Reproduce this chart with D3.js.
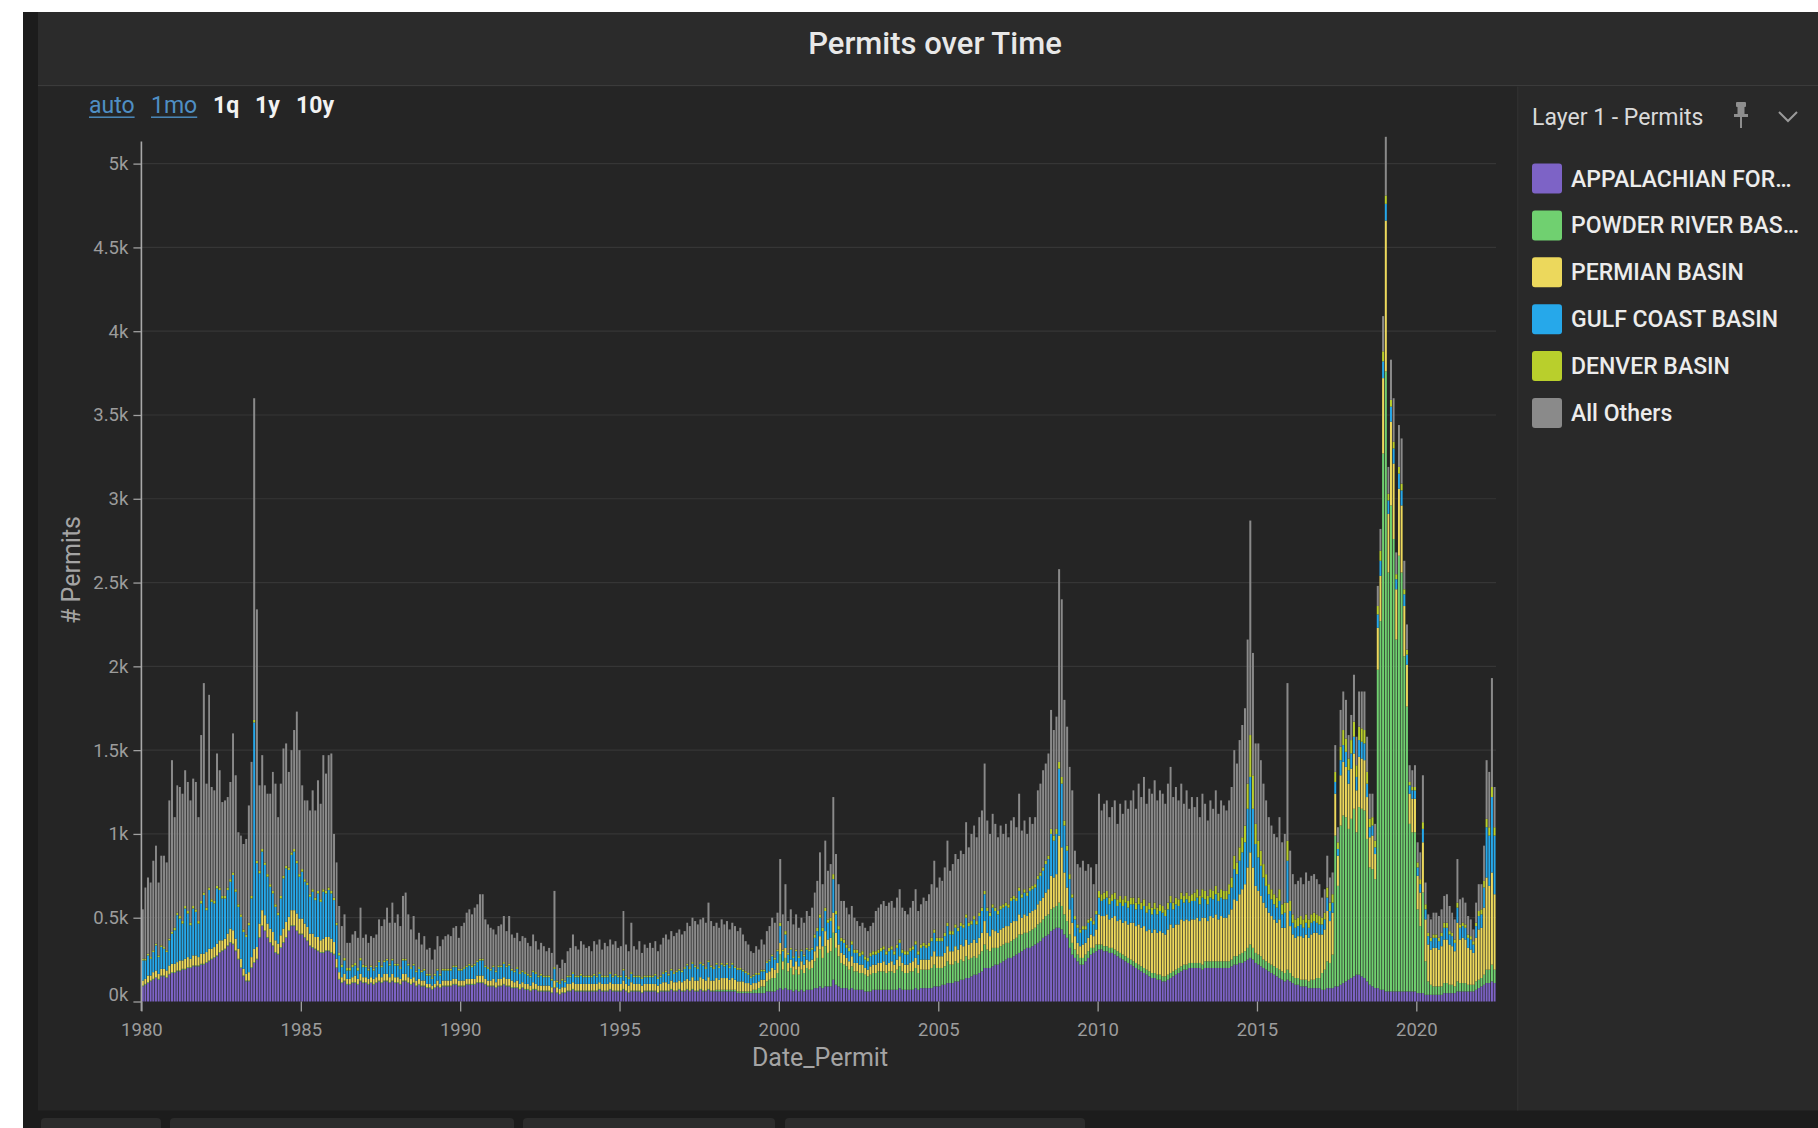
<!DOCTYPE html>
<html><head><meta charset="utf-8">
<script src="https://cdn.jsdelivr.net/npm/d3@7"></script>
<style>
html,body{margin:0;padding:0;background:#ffffff;}
svg{display:block;font-family:Roboto,"Noto Sans",sans-serif;}
</style></head><body>
<svg id="c" width="1818" height="1128"></svg>
<script>
// ---------- DATA (monthly permits, Jan 1980 .. Jun 2022) ----------
const startYear = 1980;
const seriesKeys = ["appalachian","powder","permian","gulf","denver","others"];
const legendLabels = ["APPALACHIAN FOR\u2026","POWDER RIVER BAS\u2026","PERMIAN BASIN","GULF COAST BASIN","DENVER BASIN","All Others"];
const seriesColors = ["#7d63c6","#70d070","#ecd85c","#26a8ea","#b9cf2c","#8a8a8a"];
const yTicks = [0,500,1000,1500,2000,2500,3000,3500,4000,4500,5000];
const xTickYears = [1980,1985,1990,1995,2000,2005,2010,2015,2020];
const rangeButtons = ["auto","1mo","1q","1y","10y"];

const appalachian = [
 90,100,110,120,130,140,130,150,150,140,160,170,
 170,180,180,190,190,200,200,210,210,210,220,220,
 230,240,250,260,270,290,300,310,330,350,340,300,
 250,200,150,120,120,200,230,250,380,450,420,380,
 350,330,290,280,320,350,380,420,450,450,420,400,
 400,380,360,330,320,310,300,290,290,300,300,290,
 280,200,130,110,120,100,100,110,110,100,120,110,
 110,100,110,100,110,120,110,120,120,110,120,110,
 110,100,120,120,110,100,110,90,100,90,90,80,
 80,70,80,90,80,90,90,90,90,100,100,90,
 90,90,100,100,100,100,110,110,110,100,90,90,
 90,80,90,90,100,90,90,80,80,80,70,80,
 70,70,60,70,70,60,60,60,60,60,50,80,
 50,40,50,50,60,60,70,60,60,60,60,60,
 60,60,60,60,70,60,60,60,70,60,60,60,
 60,70,60,50,60,60,60,60,50,60,60,60,
 60,60,50,60,60,60,60,70,60,60,70,60,
 60,70,60,70,60,60,70,60,60,70,60,60,
 60,60,60,60,60,60,60,60,50,50,50,50,
 50,50,50,50,50,50,50,60,60,60,60,70,
 80,70,80,70,70,60,70,60,70,60,70,70,
 70,80,80,90,80,90,90,90,130,100,90,80,
 80,80,70,80,70,70,70,70,60,60,60,70,
 70,70,70,70,70,70,70,70,70,80,70,70,
 70,70,70,80,70,80,80,80,80,80,90,90,
 90,100,100,110,110,110,120,120,130,130,140,140,
 150,160,160,170,180,200,200,200,210,220,220,230,
 240,250,260,260,270,280,290,300,310,320,320,330,
 340,350,360,380,390,400,420,430,440,440,430,400,
 380,320,280,260,240,220,220,240,260,280,290,300,
 310,310,300,300,290,290,280,270,260,250,240,230,
 220,210,200,190,180,170,160,150,140,140,130,130,
 120,120,130,140,150,160,170,180,190,190,200,200,
 200,200,200,190,200,200,200,200,200,200,200,200,
 200,200,210,220,220,230,230,240,250,260,250,230,
 220,210,200,190,180,170,160,150,140,130,120,130,
 120,110,100,100,90,90,90,80,80,80,80,80,
 70,70,80,80,80,90,90,100,110,120,130,140,
 150,160,160,150,140,120,100,90,80,80,70,70,
 60,60,60,60,60,60,60,60,60,60,60,60,
 50,50,50,40,40,40,40,40,40,40,50,50,
 50,50,50,60,60,60,60,60,60,60,70,80,
 90,100,110,110,120,110
];
const powder = [
 5,5,5,5,5,5,5,5,5,5,5,5,
 5,5,5,5,5,5,5,5,5,5,5,5,
 5,5,5,5,5,5,5,5,5,5,5,5,
 5,5,5,5,5,5,5,5,5,5,5,5,
 5,5,5,5,5,5,5,5,5,5,5,5,
 5,5,5,5,5,5,5,5,5,5,5,5,
 5,5,5,5,5,5,5,5,5,5,5,5,
 5,5,5,5,5,5,5,5,5,5,5,5,
 5,5,5,5,5,5,5,5,5,5,5,5,
 5,5,5,5,5,5,5,5,5,5,5,5,
 5,5,5,5,5,5,5,5,5,5,5,5,
 5,5,5,5,5,5,5,5,5,5,5,5,
 5,5,5,5,5,5,5,5,5,5,5,5,
 5,5,5,5,5,5,5,5,5,5,5,5,
 5,5,5,5,5,5,5,5,5,5,5,5,
 5,5,5,5,5,5,5,5,5,5,5,5,
 5,5,5,5,5,5,5,5,5,5,5,5,
 5,5,5,5,5,5,5,5,5,5,5,5,
 10,10,10,10,10,10,10,10,10,10,10,10,
 10,10,20,20,30,40,40,60,70,80,80,100,
 200,120,180,110,130,100,120,100,120,110,130,120,
 130,160,180,220,180,240,200,210,280,220,180,150,
 140,130,120,130,110,110,100,100,100,90,100,100,
 100,110,110,110,100,110,110,100,120,130,110,100,
 100,110,110,120,100,110,110,110,110,120,130,110,
 110,100,110,130,110,110,120,110,120,110,130,110,
 110,110,100,110,120,140,110,100,110,100,100,100,
 100,100,90,100,100,100,110,100,100,90,100,100,
 100,110,110,110,120,120,130,130,130,150,140,120,
 100,80,70,50,40,40,40,40,40,40,30,40,
 30,30,30,30,30,30,30,30,30,30,30,30,
 30,30,30,30,30,30,30,30,30,30,30,30,
 30,30,30,30,30,30,30,30,30,30,30,30,
 30,30,30,30,40,40,40,40,40,40,40,40,
 40,40,40,50,50,50,60,60,70,80,70,60,
 60,60,50,50,50,50,50,50,50,50,50,60,
 50,40,40,40,40,40,40,40,50,50,60,60,
 100,120,160,150,200,900,600,950,1000,980,900,950,
 1000,850,1000,1000,1000,850,700,700,650,1900,2200,3200,
 3700,2500,2900,2700,2100,2600,2500,2000,1700,1000,950,950,
 500,400,600,200,80,60,50,50,50,50,60,60,
 50,50,40,60,50,50,50,40,40,40,50,50,
 50,60,80,80,100,80
];
const permian = [
 30,30,40,30,40,40,30,40,40,40,50,50,
 50,50,60,50,60,60,50,60,60,50,60,60,
 60,70,60,60,70,70,60,60,70,80,80,70,
 60,50,40,40,50,60,80,70,80,90,90,80,
 80,80,70,60,70,80,90,80,90,90,100,90,
 90,80,80,70,80,70,80,70,80,80,80,80,
 70,50,40,30,40,30,30,30,40,30,40,30,
 30,30,30,30,30,40,30,40,40,30,40,30,
 30,30,40,40,30,30,30,30,30,30,30,20,
 20,20,20,30,20,30,30,30,30,30,30,30,
 30,30,30,30,30,30,40,40,40,30,30,30,
 40,30,40,40,40,40,40,40,30,40,30,30,
 30,30,30,40,30,30,30,30,30,30,30,40,
 30,30,30,30,40,40,40,40,40,40,40,40,
 40,40,40,40,40,40,40,40,40,40,40,40,
 40,50,40,40,50,40,40,40,40,40,40,40,
 40,40,40,40,50,50,40,50,50,50,50,50,
 60,60,60,70,60,60,70,70,60,70,60,60,
 70,60,70,70,70,60,70,60,60,60,60,50,
 50,40,40,40,40,40,40,50,50,60,50,60,
 70,50,60,50,50,50,50,50,50,50,50,50,
 50,60,70,80,70,90,80,80,120,90,70,60,
 60,50,50,60,50,50,50,50,40,40,50,50,
 50,50,50,60,50,50,60,50,60,60,50,50,
 50,50,60,60,50,60,60,60,60,70,80,70,
 70,70,80,90,80,80,90,80,90,90,100,90,
 90,100,90,100,110,140,100,90,110,100,90,100,
 100,100,100,110,110,100,120,100,110,100,110,110,
 110,120,130,130,140,150,200,180,190,400,350,250,
 200,150,120,80,70,70,80,70,80,80,70,90,
 180,170,180,190,170,180,200,180,200,190,210,200,
 220,230,220,240,230,250,230,250,240,260,250,260,
 260,250,270,290,260,270,260,280,260,270,250,260,
 260,270,250,280,260,240,270,260,280,250,270,260,
 260,280,300,340,330,360,380,400,480,550,480,400,
 380,360,340,320,300,290,280,270,300,260,270,400,
 280,250,240,250,260,250,270,260,270,280,270,260,
 230,240,300,250,250,250,180,300,320,300,270,300,
 330,250,300,300,300,250,180,200,150,250,270,450,
 900,350,500,450,300,400,400,300,250,180,200,200,
 200,200,300,250,220,210,230,230,220,240,260,260,
 240,230,210,350,260,270,260,220,210,190,260,300,
 300,400,550,500,550,450
];
const gulf = [
 120,110,120,100,120,150,100,130,120,110,150,180,
 200,280,250,220,300,260,200,280,260,200,300,350,
 250,350,280,260,330,300,250,240,260,280,330,280,
 250,250,220,220,280,350,1350,500,300,350,300,280,
 250,230,200,170,220,300,320,280,330,350,300,250,
 280,250,250,220,250,220,260,230,280,260,280,270,
 250,200,100,60,80,50,50,60,60,50,80,60,
 60,50,60,50,60,70,60,70,80,70,80,70,
 70,60,80,80,70,60,70,50,60,50,60,50,
 50,40,50,60,50,60,60,60,60,70,70,60,
 60,70,70,80,70,80,80,90,90,70,70,60,
 70,60,70,70,80,70,80,60,60,70,60,60,
 60,50,50,60,60,50,60,50,50,50,40,70,
 30,30,40,30,40,40,50,40,40,50,40,40,
 40,40,50,40,50,40,40,40,50,40,50,40,
 40,60,40,40,50,40,40,40,40,40,40,40,
 40,50,40,40,50,60,50,60,50,60,60,60,
 70,80,70,80,80,70,80,80,70,90,80,70,
 80,70,80,70,80,70,80,70,70,70,60,60,
 50,40,40,50,40,50,50,60,60,70,60,70,
 100,60,80,50,60,50,60,50,60,50,60,60,
 60,80,90,110,90,120,100,100,200,110,90,70,
 70,60,60,70,60,60,50,60,50,50,60,60,
 60,60,70,70,60,70,70,60,70,80,60,60,
 60,70,70,80,60,70,80,70,80,90,110,90,
 90,90,100,120,100,100,110,110,110,110,130,110,
 110,120,110,130,130,160,130,120,130,120,110,120,
 120,120,110,130,130,120,140,120,130,120,130,130,
 130,150,150,160,170,180,250,220,240,400,380,280,
 220,180,150,100,90,80,90,80,90,80,70,90,
 100,90,100,100,90,100,100,90,100,100,110,100,
 110,110,100,120,110,120,110,120,110,120,110,120,
 120,110,120,130,110,120,110,120,110,120,110,110,
 110,120,100,120,110,100,110,110,120,110,110,110,
 110,120,130,180,160,200,220,250,350,450,350,250,
 200,180,150,130,110,100,90,90,110,80,90,250,
 90,70,60,60,70,60,70,60,70,70,60,60,
 60,60,80,60,60,70,40,90,100,90,80,90,
 100,80,100,100,100,80,60,60,40,80,90,100,
 100,80,90,90,60,90,90,70,60,50,50,50,
 50,50,80,60,50,50,60,60,50,60,70,70,
 60,60,50,90,70,70,70,60,60,50,70,80,
 80,120,300,300,450,350
];
const denver = [
 10,10,10,10,10,10,10,10,10,10,10,10,
 15,15,15,15,15,15,15,15,15,15,15,15,
 15,15,15,15,15,15,15,15,15,15,15,15,
 15,15,15,15,15,15,15,15,15,15,15,15,
 15,15,15,15,15,15,15,15,15,15,15,15,
 15,15,15,15,15,15,15,15,15,15,15,15,
 15,15,15,15,15,15,15,15,15,15,15,15,
 10,10,10,10,10,10,10,10,10,10,10,10,
 10,10,10,10,10,10,10,10,10,10,10,10,
 10,10,10,10,10,10,10,10,10,10,10,10,
 10,10,10,10,10,10,10,10,10,10,10,10,
 10,10,10,10,10,10,10,10,10,10,10,10,
 10,10,10,10,10,10,10,10,10,10,10,10,
 10,10,10,10,10,10,10,10,10,10,10,10,
 10,10,10,10,10,10,10,10,10,10,10,10,
 10,10,10,10,10,10,10,10,10,10,10,10,
 10,10,10,10,10,10,10,10,10,10,10,10,
 10,10,10,10,10,10,10,10,10,10,10,10,
 10,10,10,10,10,10,10,10,10,10,10,10,
 10,10,10,10,10,10,10,10,10,10,10,10,
 20,10,20,10,10,10,10,10,10,10,10,10,
 10,20,20,20,20,20,20,20,30,20,20,20,
 20,20,20,20,20,20,20,20,20,20,20,20,
 20,20,20,20,20,20,20,20,20,20,20,20,
 20,20,20,20,20,20,20,20,20,20,20,20,
 20,20,20,20,20,20,20,20,20,20,20,20,
 20,20,20,20,20,20,20,20,20,20,20,20,
 20,20,20,20,20,20,20,20,20,20,20,20,
 20,20,20,20,20,20,30,30,30,40,40,30,
 30,30,20,20,20,20,20,20,20,20,20,20,
 40,40,40,40,40,40,40,40,40,40,40,40,
 40,40,40,40,40,40,40,40,40,40,40,40,
 40,40,40,40,40,40,40,40,40,40,40,40,
 50,50,50,50,50,50,50,50,50,50,50,50,
 50,60,60,80,70,80,90,100,150,250,200,120,
 100,90,80,70,60,60,60,60,70,60,60,120,
 60,50,50,50,50,50,50,50,50,50,50,50,
 40,40,60,50,50,60,40,80,90,80,70,80,
 90,70,80,80,80,70,50,50,40,50,60,60,
 50,40,40,40,30,40,40,30,30,20,20,20,
 30,30,40,30,20,20,20,20,20,20,30,30,
 20,20,20,30,20,20,20,20,20,20,20,30,
 30,40,50,50,60,50
];
const others = [
 295,425,455,445,535,585,435,535,545,525,825,1025,
 660,760,770,760,810,770,730,760,760,620,990,1250,
 740,1150,670,660,790,700,560,570,540,580,830,680,
 430,470,510,570,700,800,1920,1500,510,560,460,480,
 540,710,720,570,670,760,730,570,610,710,890,740,
 500,470,490,500,590,520,660,570,800,700,790,820,
 380,360,280,230,260,150,150,180,190,180,300,160,
 185,155,175,185,185,245,235,245,305,245,335,245,
 295,245,375,395,295,225,285,185,205,155,195,145,
 155,105,145,195,165,175,195,205,195,225,235,185,
 255,265,315,325,305,335,335,385,385,275,255,245,
 215,215,235,245,275,205,285,205,195,205,185,205,
 205,185,175,215,185,155,185,175,145,165,155,455,
 95,85,115,105,145,165,225,175,155,195,185,165,
 175,145,195,185,195,155,195,175,195,185,195,165,
 175,345,185,155,295,175,155,205,145,185,165,195,
 165,195,155,185,205,215,205,225,215,225,235,215,
 215,245,245,265,265,255,255,275,265,345,265,245,
 240,230,260,240,250,220,240,240,220,240,210,180,
 170,150,130,160,140,180,150,180,200,220,210,220,
 380,210,280,190,230,190,210,170,190,190,220,200,
 240,250,280,370,260,400,290,320,460,340,250,220,
 230,220,200,210,190,170,160,170,170,160,160,170,
 240,250,260,270,270,270,270,260,280,300,250,240,
 220,240,270,310,240,240,270,260,290,320,410,300,
 360,340,390,490,360,400,420,410,430,420,550,450,
 520,540,500,570,580,760,520,470,540,500,440,480,
 420,470,400,460,470,420,560,380,410,350,420,370,
 400,510,530,580,580,610,710,630,670,1150,1060,720,
 710,640,620,390,360,370,390,330,330,300,220,280,
 580,500,530,540,480,520,550,450,550,510,570,550,
 580,640,560,680,630,730,610,680,680,730,640,680,
 670,630,710,770,630,660,590,650,550,610,520,580,
 510,550,470,570,520,450,530,490,570,470,530,510,
 480,500,540,630,590,640,670,700,860,1280,730,480,
 580,540,480,440,400,380,360,360,430,370,410,940,
 300,240,210,220,230,210,250,230,230,230,210,190,
 120,140,190,150,130,160,90,220,230,230,140,150,
 280,170,210,220,230,210,150,140,100,120,130,210,
 350,160,240,260,130,250,270,170,150,100,100,130,
 120,160,280,130,110,110,130,130,130,140,160,170,
 150,120,120,260,150,150,130,110,100,70,120,160,
 150,210,350,330,650,240
];

// ---------- BUILD ----------
const svg = d3.select("#c");
const W = 1818, H = 1128;

// frame / panels
svg.append("rect").attr("x",0).attr("y",0).attr("width",W).attr("height",H).attr("fill","#ffffff");
svg.append("rect").attr("x",23).attr("y",12).attr("width",W-23).attr("height",H-12).attr("fill","#1c1c1c");
svg.append("rect").attr("x",38).attr("y",12).attr("width",W-38).attr("height",73).attr("fill","#2b2b2b");
svg.append("rect").attr("x",38).attr("y",85).attr("width",W-38).attr("height",1.5).attr("fill","#3b3b3b");
svg.append("rect").attr("x",38).attr("y",86.5).attr("width",1479).attr("height",1024).attr("fill","#252525");
svg.append("rect").attr("x",1517).attr("y",86.5).attr("width",W-1517).attr("height",1024).attr("fill","#292929");
svg.append("rect").attr("x",1517).attr("y",86.5).attr("width",1.5).attr("height",1024).attr("fill","#2f2f2f");
// bottom tabs
[[41,161],[170,514],[523,775],[785,1085]].forEach(t=>{
  svg.append("rect").attr("x",t[0]).attr("y",1118).attr("width",t[1]-t[0]).attr("height",14)
    .attr("rx",4).attr("fill","#2c2c2c");
});

// title
svg.append("text").attr("x",935).attr("y",54).attr("text-anchor","middle")
  .attr("font-size",31).attr("font-weight",500).attr("fill","#e8e8e8").text("Permits over Time");

// range buttons
const btnX = [89,151,213,255,296];
rangeButtons.forEach((b,i)=>{
  const link = i<2;
  const t = svg.append("text").attr("x",btnX[i]).attr("y",113).attr("font-size",23)
    .attr("font-weight", link?400:700).attr("fill", link?"#4f8fc4":"#f2f2f2").text(b);
  if(link){
    const w = t.node().getComputedTextLength();
    svg.append("rect").attr("x",btnX[i]).attr("y",116.5).attr("width",w).attr("height",1.4).attr("fill","#4f8fc4");
  }
});

// data rows
const n = appalachian.length;
const rows = d3.range(n).map(i=>({
  date: new Date(startYear, i, 1),
  appalachian: appalachian[i], powder: powder[i], permian: permian[i],
  gulf: gulf[i], denver: denver[i], others: others[i]
}));
const x = d3.scaleTime().domain([new Date(1980,0,1), new Date(2022,6,1)]).range([141.4, 1495.9]);
const y = d3.scaleLinear().domain([0, 5132]).range([1001.5, 141.5]);

// gridlines
const g = svg.append("g");
g.selectAll("line.grid").data(yTicks.filter(v=>v>0)).join("line")
  .attr("x1",141.4).attr("x2",1496).attr("y1",d=>y(d)).attr("y2",d=>y(d))
  .attr("stroke","#363636").attr("stroke-width",1.2);

// stacked bars
const stack = d3.stack().keys(seriesKeys)(rows);
const color = d3.scaleOrdinal().domain(seriesKeys).range(seriesColors);
const barsG = svg.append("g");
stack.forEach(layer=>{
  barsG.append("g").attr("fill", color(layer.key))
    .selectAll("rect").data(layer).join("rect")
    .attr("x", d=> x(d.data.date)+0.35)
    .attr("width", d=> { const nx = new Date(d.data.date); nx.setMonth(nx.getMonth()+1); return Math.max(0.5, x(nx)-x(d.data.date)-0.7); })
    .attr("y", d=> y(d[1]))
    .attr("height", d=> Math.max(0, y(d[0])-y(d[1])));
});

// y axis
const yAxis = d3.axisLeft(y).tickValues(yTicks).tickSize(8).tickPadding(5)
  .tickFormat(v => v===0 ? "0k" : (v/1000)+"k");
const ya = svg.append("g").attr("transform","translate(141.4,0)").call(yAxis);
ya.select(".domain").remove();
ya.selectAll(".tick line").attr("stroke","#a0a0a0").attr("stroke-width",1.3);
ya.selectAll(".tick text").attr("fill","#9c9c9c").attr("font-size",18.5)
  .attr("font-family","Roboto, sans-serif");
ya.selectAll(".tick text").filter(d=>d===0).attr("dy","-0.05em");
svg.append("line").attr("x1",141.4).attr("x2",141.4).attr("y1",141.5).attr("y2",1011)
  .attr("stroke","#a8a8a8").attr("stroke-width",1.6);

// x axis
const xAxis = d3.axisBottom(x).tickValues(xTickYears.map(yr=>new Date(yr,0,1))).tickSize(10).tickPadding(11)
  .tickFormat(d3.timeFormat("%Y"));
const xa = svg.append("g").attr("transform","translate(0,1001.5)").call(xAxis);
xa.select(".domain").remove();
xa.selectAll(".tick line").attr("stroke","#a0a0a0").attr("stroke-width",1.3);
xa.selectAll(".tick text").attr("fill","#9c9c9c").attr("font-size",18.5)
  .attr("font-family","Roboto, sans-serif");

// axis titles
svg.append("text").attr("x",820).attr("y",1066).attr("text-anchor","middle")
  .attr("font-size",25).attr("fill","#a4a4a4").text("Date_Permit");
svg.append("text").attr("transform","translate(80,570) rotate(-90)").attr("text-anchor","middle")
  .attr("font-size",25).attr("fill","#a4a4a4").text("# Permits");

// legend
svg.append("text").attr("x",1532).attr("y",125).attr("font-size",23).attr("fill","#dadada").text("Layer 1 - Permits");
// pin icon
const pin = svg.append("g").attr("transform","translate(1741,117)").attr("fill","#8e8e8e");
pin.append("rect").attr("x",-5).attr("y",-15).attr("width",10).attr("height",5).attr("rx",1);
pin.append("rect").attr("x",-3.5).attr("y",-11).attr("width",7).attr("height",9);
pin.append("rect").attr("x",-7).attr("y",-3).attr("width",14).attr("height",3);
pin.append("rect").attr("x",-1).attr("y",0).attr("width",2).attr("height",11);
// chevron
svg.append("path").attr("d","M1779,112 L1788,121 L1797,112").attr("fill","none")
  .attr("stroke","#9a9a9a").attr("stroke-width",2);

const lg = svg.append("g");
legendLabels.forEach((lab,i)=>{
  const cy = 178.5 + 46.9*i;
  lg.append("rect").attr("x",1532).attr("y",cy-15).attr("width",30).attr("height",30).attr("rx",3)
    .attr("fill",seriesColors[i]);
  lg.append("text").attr("x",1571).attr("y",cy+8).attr("font-size",23).attr("font-weight",500)
    .attr("fill","#ececec").text(lab);
});
</script>
</body></html>
